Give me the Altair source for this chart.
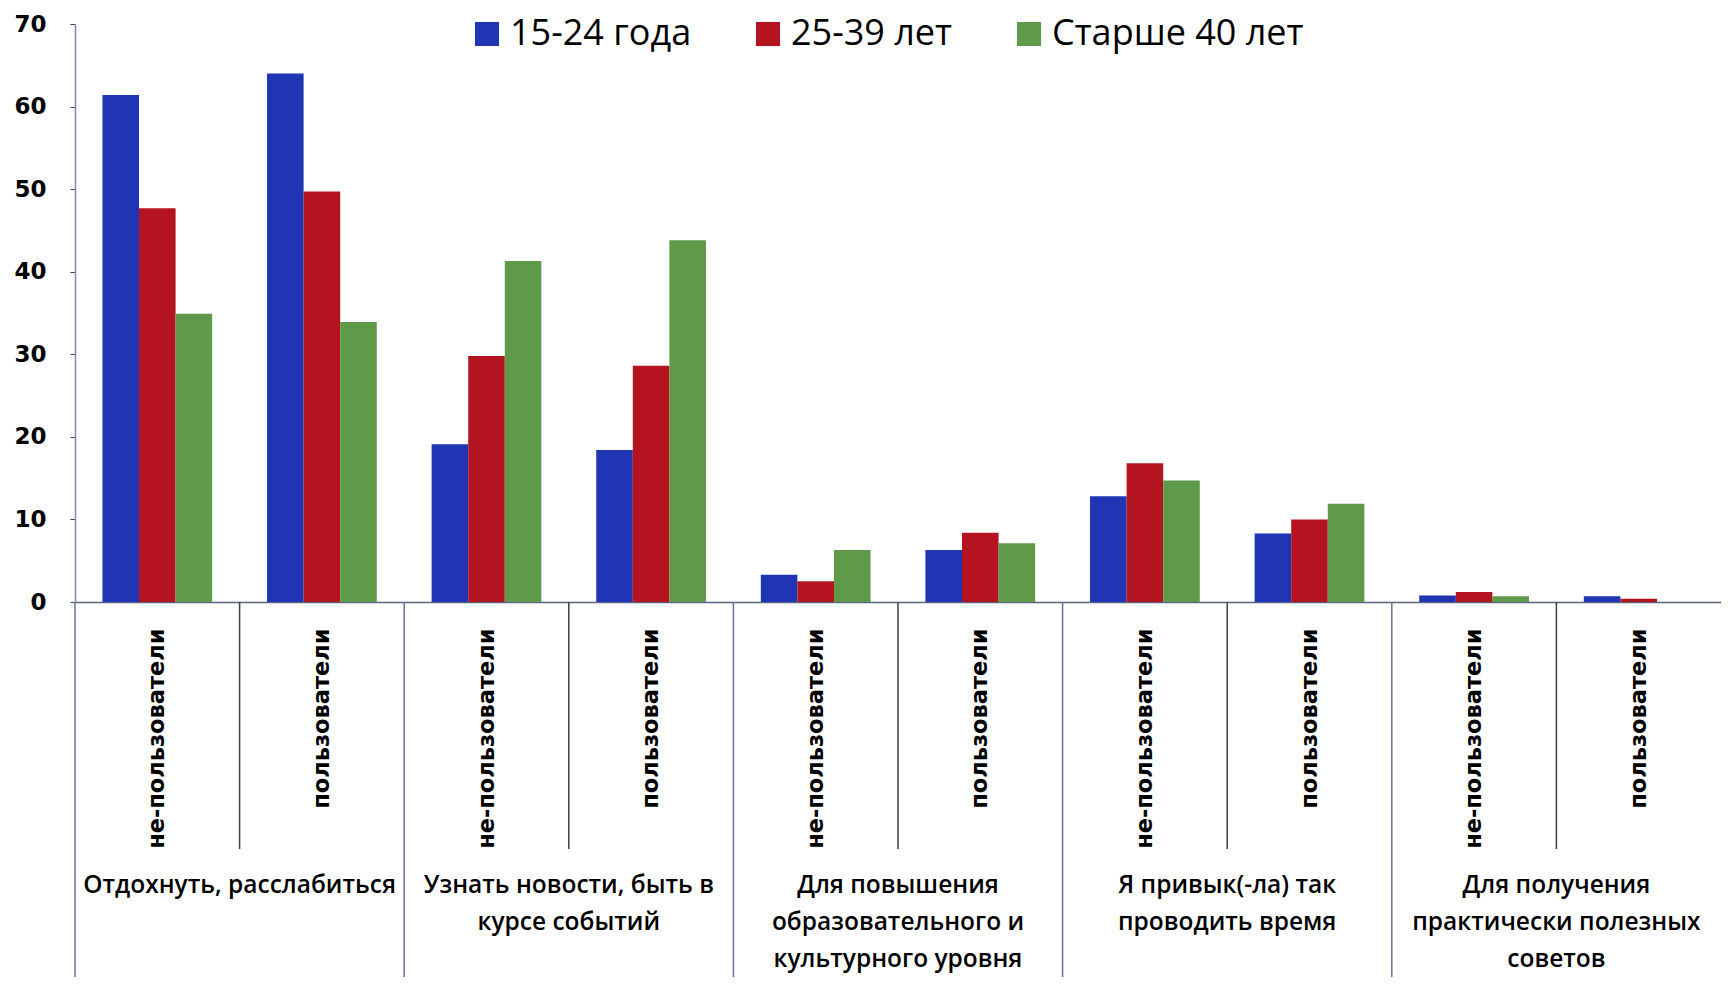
import altair as alt
import pandas as pd

group_lines = [
    ["Отдохнуть, расслабиться"],
    ["Узнать новости, быть в", "курсе событий"],
    ["Для повышения", "образовательного и", "культурного уровня"],
    ["Я привык(-ла) так", "проводить время"],
    ["Для получения", "практически полезных", "советов"],
]
subgroups = ["не-пользователи", "пользователи"]
ages = ["15-24 года", "25-39 лет", "Старше 40 лет"]
age_colors = ["#1f35b3", "#b3141f", "#5f9a4b"]

# values per slot: (group1 non-users, group1 users, group2 non-users, ...)
v_15_24 = [61.4, 64.0, 19.1, 18.4, 3.3, 6.3, 12.8, 8.3, 0.8, 0.7]
v_25_39 = [47.7, 49.7, 29.8, 28.6, 2.5, 8.4, 16.8, 10.0, 1.2, 0.4]
v_40 = [34.9, 33.9, 41.3, 43.8, 6.3, 7.1, 14.7, 11.9, 0.7, 0.0]
y_ticks = [0, 10, 20, 30, 40, 50, 60, 70]

W, H = 1646, 578

slots = [f"{g}|{s}" for g in range(len(group_lines)) for s in subgroups]
series = [v_15_24, v_25_39, v_40]
rows = []
for a, vals in zip(ages, series):
    for sl, v in zip(slots, vals):
        rows.append({"slot": sl, "age": a, "value": v})
df = pd.DataFrame(rows)

x_scale = alt.Scale(paddingInner=0, paddingOuter=0)

bars = alt.Chart(df).mark_bar().encode(
    x=alt.X("slot:N", sort=slots, scale=x_scale, title=None,
            axis=alt.Axis(labelExpr="split(datum.label, '|')[1]", labelAngle=-90,
                          labelFont="DejaVu Sans", labelFontWeight="bold", labelFontSize=22.5,
                          labelColor="#000000", labelPadding=26, labelLimit=400,
                          labelOverlap=False,
                          ticks=False, domainColor="#5a6680", domainWidth=1.5)),
    xOffset=alt.XOffset("age:N", sort=ages, scale=alt.Scale(paddingInner=0, paddingOuter=0.75)),
    y=alt.Y("value:Q", scale=alt.Scale(domain=[0, 70], nice=False), title=None,
            axis=alt.Axis(values=y_ticks, grid=False, labelFont="DejaVu Sans",
                          labelFontWeight="bold", labelFontSize=23, labelColor="#000000",
                          tickSize=5, tickColor="#444444", domainColor="#7a88b0",
                          domainWidth=1.5, labelPadding=24)),
    color=alt.Color("age:N", sort=ages, scale=alt.Scale(domain=ages, range=age_colors),
                    legend=alt.Legend(title=None, orient="none", legendX=394, legendY=-8,
                                      direction="horizontal", columns=3, labelFont="Open Sans",
                                      labelFontSize=36, labelColor="#000000", symbolType="square",
                                      symbolSize=580, symbolStrokeWidth=0, columnPadding=58,
                                      labelOffset=5, labelLimit=0)),
)

cat_df = pd.DataFrame({"slot": [f"{g}|{subgroups[0]}" for g in range(len(group_lines))]})
sub_df = pd.DataFrame({"slot": [f"{g}|{subgroups[1]}" for g in range(len(group_lines))]})

cat_rules = alt.Chart(cat_df).mark_rule(color="#66739a", strokeWidth=1.5).encode(
    x=alt.X("slot:N", sort=slots, bandPosition=0),
    y=alt.value(H), y2=alt.value(H + 383),
)
sub_rules = alt.Chart(sub_df).mark_rule(color="#3a3f50", strokeWidth=1.5).encode(
    x=alt.X("slot:N", sort=slots, bandPosition=0),
    y=alt.value(H), y2=alt.value(H + 247),
)

lab_df = pd.DataFrame({
    "slot": [f"{g}|{subgroups[1]}" for g in range(len(group_lines))],
    "label": ["\n".join(l) for l in group_lines],
})
group_text = alt.Chart(lab_df).mark_text(
    font="Open Sans", fontSize=24.5, fontWeight=600, lineHeight=37, lineBreak="\n",
    baseline="middle", align="center", color="#000000",
).encode(
    x=alt.X("slot:N", sort=slots, bandPosition=0),
    y=alt.value(H + 284),
    text="label:N",
)

chart = alt.layer(bars, cat_rules, sub_rules, group_text).properties(
    width=W, height=H,
    autosize=alt.AutoSizeParams(type="none"),
    padding={"left": 67, "top": 16, "right": 0, "bottom": 375},
    background="white",
).configure_view(strokeWidth=0)

chart.save("out.html", embed_options={"renderer": "svg", "actions": False})
